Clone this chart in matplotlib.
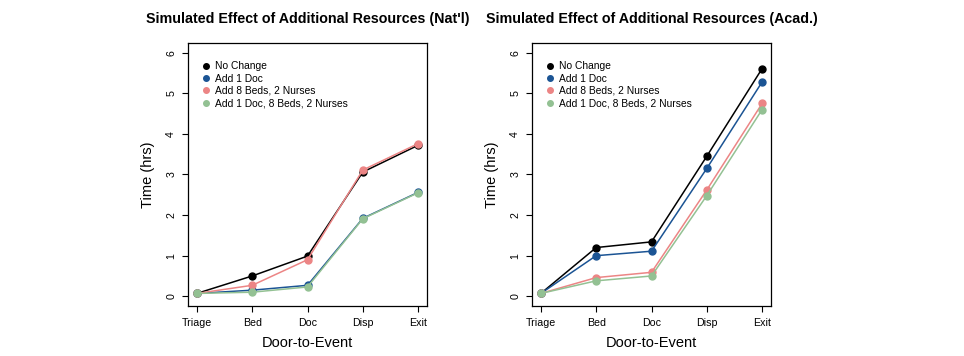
import numpy as np
import matplotlib.pyplot as plt

plt.rcParams['font.family'] = ['Liberation Sans', 'DejaVu Sans']

events = ['Triage', 'Bed', 'Doc', 'Disp', 'Exit']
series = ['No Change', 'Add 1 Doc', 'Add 8 Beds, 2 Nurses',
          'Add 1 Doc, 8 Beds, 2 Nurses']
colors = ['#000000', '#1B5494', '#EC8585', '#93C193']

# Nat'l
natl_none = [0.07, 0.50, 0.99, 3.06, 3.72]
natl_doc = [0.07, 0.15, 0.27, 1.92, 2.56]
natl_beds = [0.07, 0.27, 0.90, 3.11, 3.76]
natl_all = [0.07, 0.10, 0.23, 1.91, 2.55]

# Acad.
acad_none = [0.07, 1.20, 1.34, 3.45, 5.61]
acad_doc = [0.07, 1.00, 1.11, 3.15, 5.28]
acad_beds = [0.07, 0.46, 0.59, 2.62, 4.75]
acad_all = [0.07, 0.38, 0.50, 2.48, 4.60]

panels = [
    ("Simulated Effect of Additional Resources (Nat'l)",
     [natl_none, natl_doc, natl_beds, natl_all]),
    ("Simulated Effect of Additional Resources (Acad.)",
     [acad_none, acad_doc, acad_beds, acad_all]),
]

fig = plt.figure(figsize=(9.64, 3.56), dpi=100)
lefts = [188 / 964, 532 / 964]
x = np.arange(1, len(events) + 1)

for left, (title, data) in zip(lefts, panels):
    ax = fig.add_axes([left, 0.1404, 239 / 964, 0.739])
    for vals, name, c in zip(data, series, colors):
        ax.plot(x, vals, color=c, lw=1.1, marker='o', ms=5, label=name)
    ax.set_xlim(0.84, 5.16)
    ax.set_ylim(-0.24, 6.24)
    ax.set_xticks(x)
    ax.set_xticklabels(events)
    ax.set_yticks(range(0, 7))
    ax.tick_params(labelsize=7.7, length=4, width=0.8, pad=4.5)
    for lab in ax.get_yticklabels():
        lab.set_rotation(90)
        lab.set_va('center')
    for sp in ax.spines.values():
        sp.set_linewidth(0.9)
    ax.set_xlabel('Door-to-Event', fontsize=10.5, labelpad=6)
    ax.set_ylabel('Time (hrs)', fontsize=10.5, labelpad=8)
    ax.set_title(title, fontsize=10.3, fontweight='bold', pad=14)
    leg = ax.legend(loc='upper left', frameon=False, fontsize=7.4,
                    handlelength=0, handletextpad=0.85, labelspacing=0.22,
                    markerscale=0.8, borderaxespad=0.3,
                    bbox_to_anchor=(0.045, 0.957))
    for h in leg.legend_handles:
        h.set_linestyle('None')

fig.savefig('out.png', dpi=100)
